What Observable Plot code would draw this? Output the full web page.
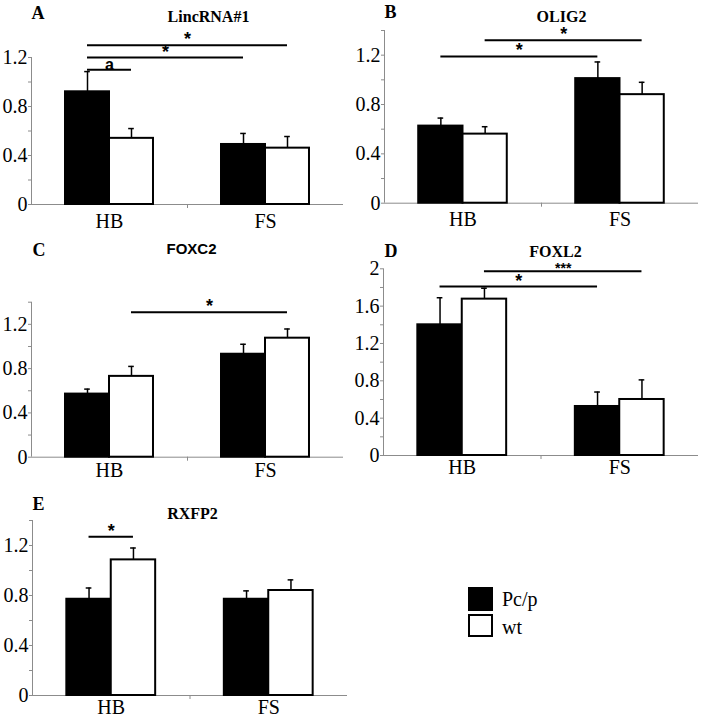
<!DOCTYPE html>
<html>
<head>
<meta charset="utf-8">
<script src="https://cdn.jsdelivr.net/npm/d3@7"></script>
<script src="https://cdn.jsdelivr.net/npm/@observablehq/plot@0.6"></script>
<style>
  body { margin: 0; background: white; }
  #root { position: relative; width: 702px; height: 721px; background: white; overflow: hidden; }
  .panel { position: absolute; }
  .legend-box { position: absolute; box-sizing: border-box; border: 2px solid black; }
  .legend-text { position: absolute; font-family: "Liberation Serif", "Times New Roman", serif; font-size: 20px; line-height: 20px; color: black; }
</style>
</head>
<body>
<div id="root"></div>
<script>
// ---- data ----
const categories = ["HB", "FS"];
const groups = ["Pc/p", "wt"];

const lincPc = [0.92, 0.49];   const lincPcErr = [0.165, 0.09];
const lincWt = [0.54, 0.46];   const lincWtErr = [0.08, 0.095];

const oligPc = [0.625, 1.01];  const oligPcErr = [0.065, 0.135];
const oligWt = [0.56, 0.88];   const oligWtErr = [0.06, 0.10];

const foxc2Pc = [0.57, 0.93];  const foxc2PcErr = [0.045, 0.09];
const foxc2Wt = [0.73, 1.075]; const foxc2WtErr = [0.09, 0.083];

const foxl2Pc = [1.40, 0.525]; const foxl2PcErr = [0.29, 0.155];
const foxl2Wt = [1.675, 0.60]; const foxl2WtErr = [0.117, 0.21];

const rxfpPc = [0.77, 0.77];   const rxfpPcErr = [0.09, 0.067];
const rxfpWt = [1.085, 0.84];  const rxfpWtErr = [0.095, 0.085];

// significance brackets: [fromCat, fromGroup, toCat, toGroup, level, label]
const lincSig = [["HB","Pc/p","FS","wt",1.30,"*"], ["HB","Pc/p","FS","Pc/p",1.20,"*"], ["HB","Pc/p","HB","wt",1.10,"a"]];
const oligSig = [["HB","wt","FS","wt",1.32,"*"], ["HB","Pc/p","FS","Pc/p",1.19,"*"]];
const foxc2Sig = [["HB","wt","FS","wt",1.31,"*"]];
const foxl2Sig = [["HB","wt","FS","wt",1.975,"***"], ["HB","Pc/p","FS","Pc/p",1.81,"*"]];
const rxfpSig = [["HB","Pc/p","HB","wt",1.27,"*"]];

const yTicksA = [0, 0.4, 0.8, 1.2];
const yTicks14 = [0, 0.4, 0.8, 1.2];
const yTicksD = [0, 0.4, 0.8, 1.2, 1.6, 2];

// ---- layout / style ----
const SERIF = "'Liberation Serif', 'Times New Roman', serif";
const SANS = "'Liberation Sans', Arial, sans-serif";
const GRAY = "#8c8c8c";
const BW = 0.282;   // bar width as fraction of a category slot
const CAP = 0.018;  // half-width of error-bar cap, in category units

const panels = [
  {letter: "A", title: "LincRNA#1", titleFont: SERIF, pc: lincPc, pcErr: lincPcErr, wt: lincWt, wtErr: lincWtErr, sig: lincSig, yMax: 1.2, ticks: yTicksA,
   left: 0, top: 0, w: 351, h: 240, mL: 31, mR: 8, mT: 57, mB: 36, xPad: 9, letterPos: [31, 13], titlePos: [208, 16]},
  {letter: "B", title: "OLIG2", titleFont: SERIF, pc: oligPc, pcErr: oligPcErr, wt: oligWt, wtErr: oligWtErr, sig: oligSig, yMax: 1.4, ticks: yTicks14,
   left: 351, top: 0, w: 351, h: 240, mL: 33, mR: 4, mT: 30, mB: 37.3, xPad: 9, letterPos: [33, 12], titlePos: [210, 16]},
  {letter: "C", title: "FOXC2", titleFont: SANS, pc: foxc2Pc, pcErr: foxc2PcErr, wt: foxc2Wt, wtErr: foxc2WtErr, sig: foxc2Sig, yMax: 1.4, ticks: yTicks14,
   left: 0, top: 240, w: 351, h: 240, mL: 31, mR: 8, mT: 61.7, mB: 23.3, xPad: 6, letterPos: [32, 10], titlePos: [191, 9]},
  {letter: "D", title: "FOXL2", titleFont: SERIF, pc: foxl2Pc, pcErr: foxl2PcErr, wt: foxl2Wt, wtErr: foxl2WtErr, sig: foxl2Sig, yMax: 2, ticks: yTicksD,
   left: 351, top: 240, w: 351, h: 240, mL: 32, mR: 4, mT: 28.3, mB: 25, xPad: 4, letterPos: [33, 11], titlePos: [204, 11]},
  {letter: "E", title: "RXFP2", titleFont: SERIF, pc: rxfpPc, pcErr: rxfpPcErr, wt: rxfpWt, wtErr: rxfpWtErr, sig: rxfpSig, yMax: 1.4, ticks: yTicks14,
   left: 0, top: 480, w: 351, h: 241, mL: 32, mR: 4, mT: 40, mB: 26, xPad: 4, letterPos: [32, 24], titlePos: [192, 33]}
];

const center = (cat, group) => categories.indexOf(cat) + 0.5 + (groups.indexOf(group) - 0.5) * BW;
const fmt = v => String(+v.toFixed(1));

function makePanel(p) {
  const rows = [];
  categories.forEach((c, i) => {
    rows.push({cat: c, group: "Pc/p", value: p.pc[i], err: p.pcErr[i]});
    rows.push({cat: c, group: "wt", value: p.wt[i], err: p.wtErr[i]});
  });
  const sigs = p.sig.map(([c1, g1, c2, g2, y, label]) => ({x1: center(c1, g1), x2: center(c2, g2), y, label}));
  const singleStars = sigs.filter(d => d.label === "*");
  const multiStars = sigs.filter(d => d.label.length > 1);
  const letters = sigs.filter(d => d.label === "a");
  const minor = d3.range(0, p.yMax + 1e-9, 0.2).map(v => +v.toFixed(2));

  const chart = Plot.plot({
    width: p.w, height: p.h,
    marginLeft: p.mL, marginRight: p.mR, marginTop: p.mT, marginBottom: p.mB,
    x: {domain: [0, categories.length], axis: null},
    y: {domain: [0, p.yMax], axis: null},
    color: {domain: groups, range: ["black", "white"]},
    style: {background: "transparent", overflow: "visible"},
    marks: [
      // axes lines
      Plot.ruleY([0], {stroke: GRAY, strokeWidth: 1}),
      Plot.ruleX([0], {y1: 0, y2: p.yMax, stroke: GRAY, strokeWidth: 1}),
      Plot.axisY({ticks: minor, tickSize: 3, tickFormat: () => "", stroke: GRAY, label: null}),
      Plot.axisY({ticks: p.ticks, tickSize: 0, tickPadding: 4, tickFormat: fmt, fontSize: 20, fontFamily: SERIF, fill: "black", label: null}),
      Plot.axisX({ticks: d3.range(1, categories.length), tickSize: 4, tickFormat: () => "", stroke: GRAY, label: null}),
      Plot.axisX({ticks: categories.map((c, i) => i + 0.5), tickFormat: v => categories[Math.floor(v)], tickSize: 0, tickPadding: p.xPad, fontSize: 20, fontFamily: SERIF, fill: "black", label: null}),
      // error bars
      Plot.ruleX(rows, {x: d => center(d.cat, d.group), y1: "value", y2: d => d.value + d.err, stroke: "black", strokeWidth: 1.5}),
      Plot.ruleY(rows, {y: d => d.value + d.err, x1: d => center(d.cat, d.group) - CAP, x2: d => center(d.cat, d.group) + CAP, stroke: "black", strokeWidth: 1.5}),
      // bars
      Plot.rectY(rows, {x1: d => center(d.cat, d.group) - BW / 2, x2: d => center(d.cat, d.group) + BW / 2, y1: 0, y2: "value", fill: "group", stroke: "black", strokeWidth: 2}),
      // significance
      Plot.ruleY(sigs, {y: "y", x1: "x1", x2: "x2", stroke: "black", strokeWidth: 2}),
      Plot.text(singleStars, {x: d => (d.x1 + d.x2) / 2, y: "y", text: "label", lineAnchor: "bottom", dy: 0, fontSize: 18, fontWeight: "bold", fontFamily: SANS, fill: "black"}),
      Plot.text(multiStars, {x: d => (d.x1 + d.x2) / 2, y: "y", text: "label", lineAnchor: "bottom", dy: 2, fontSize: 14, fontWeight: "bold", fontFamily: SANS, fill: "black"}),
      Plot.text(letters, {x: d => (d.x1 + d.x2) / 2, y: "y", text: "label", lineAnchor: "bottom", dy: 0, fontSize: 16, fontWeight: "bold", fontFamily: SANS, fill: "black"}),
      // panel letter and title
      Plot.text([p.letter], {frameAnchor: "top-left", dx: p.letterPos[0] - p.mL, dy: p.letterPos[1] - p.mT, textAnchor: "start", lineAnchor: "middle", fontSize: 18, fontWeight: "bold", fontFamily: SERIF, fill: "black"}),
      Plot.text([p.title], {frameAnchor: "top-left", dx: p.titlePos[0] - p.mL, dy: p.titlePos[1] - p.mT, textAnchor: "middle", lineAnchor: "middle", fontSize: p.titleFont === SANS ? 15 : 16, fontWeight: "bold", fontFamily: p.titleFont, fill: "black"})
    ]
  });
  chart.classList.add("panel");
  chart.style.left = p.left + "px";
  chart.style.top = p.top + "px";
  return chart;
}

const root = document.getElementById("root");
panels.forEach(p => root.appendChild(makePanel(p)));

// legend
const legendItems = [
  {label: groups[0], fill: "black", top: 587, h: 24, textY: 589},
  {label: groups[1], fill: "white", top: 614, h: 23, textY: 617}
];
legendItems.forEach(it => {
  const box = document.createElement("div");
  box.className = "legend-box";
  box.style.left = "468px"; box.style.top = it.top + "px";
  box.style.width = "25px"; box.style.height = it.h + "px";
  box.style.background = it.fill;
  root.appendChild(box);
  const t = document.createElement("div");
  t.className = "legend-text";
  t.style.left = "502px"; t.style.top = it.textY + "px";
  t.textContent = it.label;
  root.appendChild(t);
});
</script>
</body>
</html>
